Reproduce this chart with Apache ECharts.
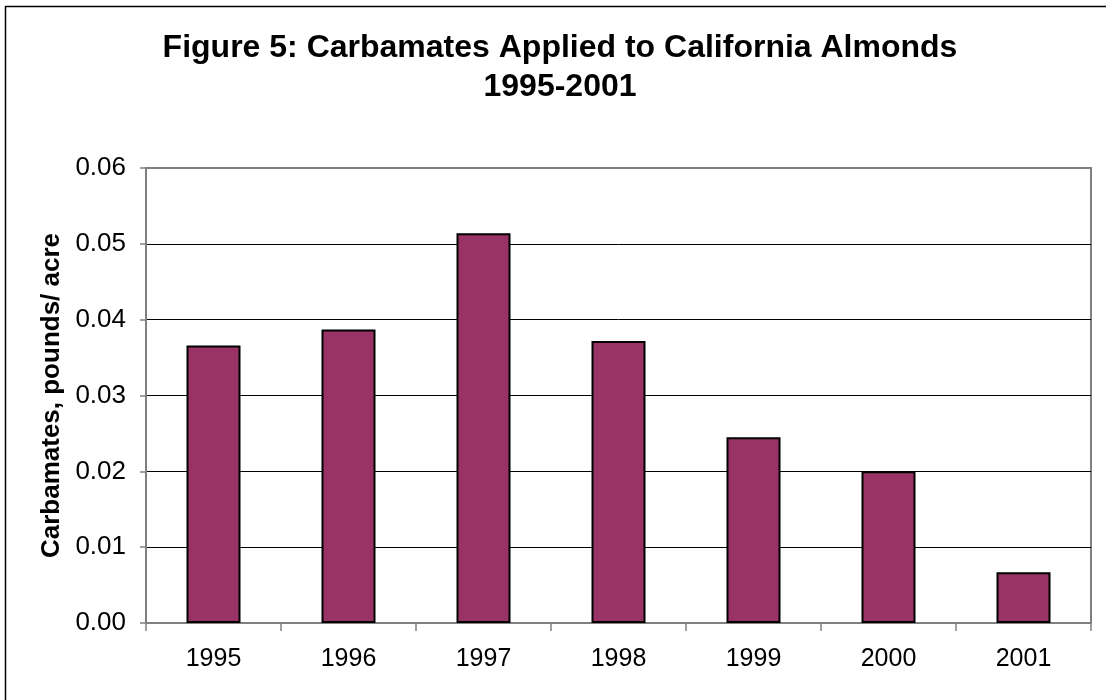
<!DOCTYPE html>
<html lang="en">
<head>
    <meta charset="UTF-8">
    <title>Carbamates Applied to California Almonds</title>
    <script src="https://cdn.jsdelivr.net/npm/echarts@6/dist/echarts.min.js"></script>
    <style>
        html, body { margin: 0; padding: 0; background: #fff; }
    </style>
</head>
<body>
    <div id="main" style="width: 1106px;height:700px;"></div>
    <script type="text/javascript">

        // data
        var years = ['1995', '1996', '1997', '1998', '1999', '2000', '2001'];
        var poundsPerAcre = [0.0366, 0.0387, 0.0514, 0.0372, 0.0245, 0.0200, 0.0067];
        var yTicks = [0, 0.01, 0.02, 0.03, 0.04, 0.05, 0.06];

        var myChart = echarts.init(document.getElementById('main'));

        var font = 'Arial, "Liberation Sans", sans-serif';

        var option = {
            animation: false,
            backgroundColor: '#fff',
            title: {
                text: 'Figure 5: Carbamates Applied to California Almonds\n1995-2001',
                left: 555,
                textAlign: 'center',
                top: 24,
                textStyle: {
                    fontFamily: font,
                    fontSize: 32,
                    fontWeight: 'bold',
                    color: '#000',
                    lineHeight: 39
                }
            },
            graphic: [{
                // outer chart frame (runs off the right and bottom edges)
                type: 'rect',
                shape: { x: 5.5, y: 6.5, width: 1200, height: 800 },
                style: { fill: null, stroke: '#000', lineWidth: 1.5 },
                silent: true
            }],
            grid: {
                left: 146,
                right: 15,
                top: 168,
                bottom: 77,
                show: true,
                borderColor: '#808080',
                borderWidth: 2,
                backgroundColor: '#fff'
            },
            xAxis: {
                type: 'category',
                data: years,
                axisLine: { lineStyle: { color: '#808080', width: 2 } },
                axisTick: {
                    show: true,
                    alignWithLabel: false,
                    length: 8,
                    lineStyle: { color: '#808080', width: 1.5 }
                },
                axisLabel: {
                    fontFamily: font,
                    fontSize: 25,
                    color: '#000',
                    margin: 24
                }
            },
            yAxis: {
                type: 'value',
                min: yTicks[0],
                max: yTicks[yTicks.length - 1],
                interval: 0.01,
                name: 'Carbamates, pounds/ acre',
                nameLocation: 'middle',
                nameGap: 80,
                nameTextStyle: {
                    fontFamily: font,
                    fontSize: 26,
                    fontWeight: 'bold',
                    color: '#000'
                },
                axisLine: { show: true, lineStyle: { color: '#808080', width: 2 } },
                axisTick: {
                    show: true,
                    length: 6,
                    lineStyle: { color: '#808080', width: 1.5 }
                },
                axisLabel: {
                    fontFamily: font,
                    fontSize: 26,
                    color: '#000',
                    margin: 20,
                    formatter: function (v) { return v.toFixed(2); }
                },
                splitLine: {
                    show: true,
                    lineStyle: {
                        color: ['#000', '#000', '#000', '#000', '#000', '#000', '#808080'],
                        width: 1
                    }
                }
            },
            series: [{
                name: 'Carbamates',
                type: 'bar',
                data: poundsPerAcre,
                barWidth: 54,
                itemStyle: {
                    color: '#993366',
                    borderColor: '#000',
                    borderWidth: 2
                }
            }]
        };

        myChart.setOption(option);
    </script>
</body>
</html>
